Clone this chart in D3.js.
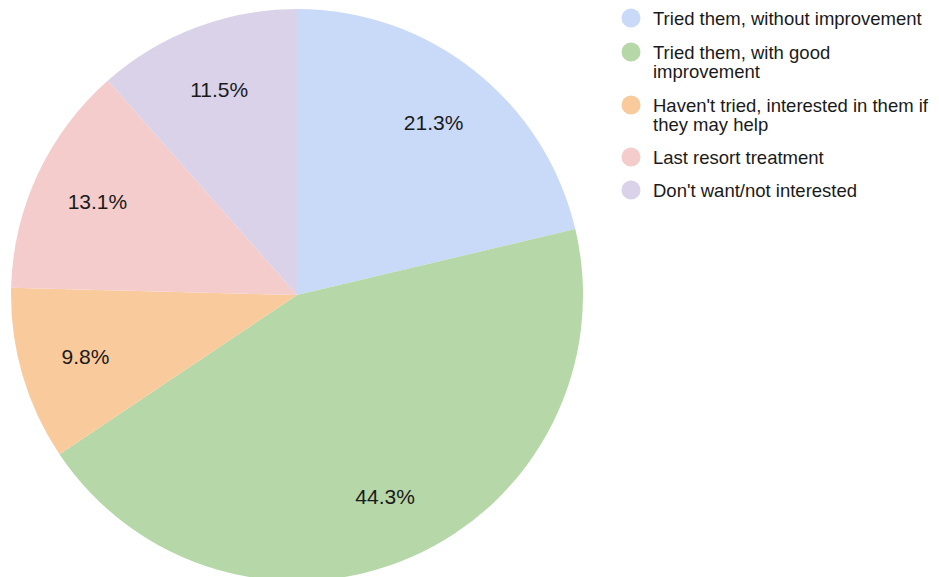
<!DOCTYPE html>
<html>
<head>
<meta charset="utf-8">
<script src="https://cdn.jsdelivr.net/npm/d3@7"></script>
<style>
  body { margin: 0; background: #fff; }
  svg { display: block; font-family: "Liberation Sans", Arial, sans-serif; }
</style>
</head>
<body>
<svg id="chart" width="939" height="577"></svg>
<script>
const categories = [
  "Tried them, without improvement",
  "Tried them, with good improvement",
  "Haven't tried, interested in them if they may help",
  "Last resort treatment",
  "Don't want/not interested"
];
const legendLines = [
  ["Tried them, without improvement"],
  ["Tried them, with good", "improvement"],
  ["Haven't tried, interested in them if", "they may help"],
  ["Last resort treatment"],
  ["Don't want/not interested"]
];
const values = [21.3, 44.3, 9.8, 13.1, 11.5];
const colors = ["#c9daf8", "#b6d7a8", "#f9cb9c", "#f4cccc", "#d9d2e9"];

const data = categories.map((c, i) => ({ name: c, value: values[i], lines: legendLines[i] }));

const svg = d3.select("#chart");
const cx = 297, cy = 295, radius = 286;

const color = d3.scaleOrdinal().domain(categories).range(colors);
const pie = d3.pie().value(d => d.value).sort(null);
const arc = d3.arc().innerRadius(0).outerRadius(radius);
const labelArc = d3.arc().innerRadius(radius * 0.77).outerRadius(radius * 0.77);

const g = svg.append("g").attr("transform", `translate(${cx},${cy})`);

g.selectAll("path")
  .data(pie(data))
  .enter()
  .append("path")
  .attr("d", arc)
  .attr("fill", d => color(d.data.name));

g.selectAll("text.label")
  .data(pie(data))
  .enter()
  .append("text")
  .attr("class", "label")
  .attr("transform", d => `translate(${labelArc.centroid(d)})`)
  .attr("text-anchor", "middle")
  .attr("dy", "0.36em")
  .attr("font-size", 21)
  .attr("fill", "#1a1a1a")
  .text(d => d.data.value.toFixed(1) + "%");

// legend
const legendY = [18, 52, 105, 157, 190];
const legend = svg.append("g").attr("transform", "translate(631,0)");
const item = legend.selectAll("g")
  .data(data)
  .enter()
  .append("g")
  .attr("transform", (d, i) => `translate(0,${legendY[i]})`);

item.append("circle")
  .attr("r", 9.5)
  .attr("fill", d => color(d.name));

item.append("text")
  .attr("font-size", 18.5)
  .attr("fill", "#1a1a1a")
  .selectAll("tspan")
  .data(d => d.lines)
  .enter()
  .append("tspan")
  .attr("x", 22)
  .attr("dy", (d, i) => i === 0 ? "0.36em" : "19")
  .text(d => d);
</script>
</body>
</html>
